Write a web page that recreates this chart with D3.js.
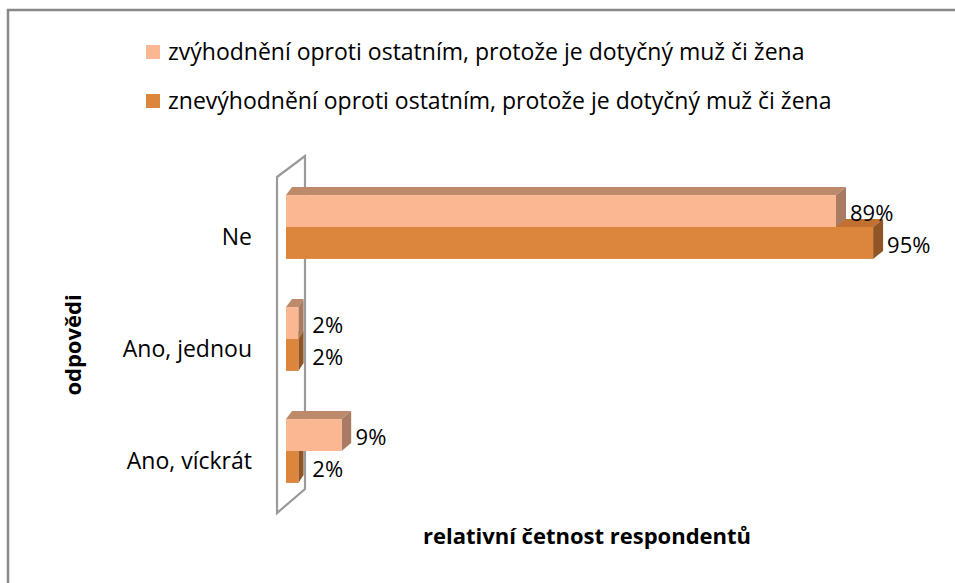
<!DOCTYPE html>
<html><head><meta charset="utf-8">
<script src="https://cdn.jsdelivr.net/npm/d3@7"></script>
<style>body{margin:0;background:#fff}svg{display:block}text{font-family:"Open Sans",sans-serif;fill:#000}</style>
</head><body>
<script>
const categories = ["Ne", "Ano, jednou", "Ano, víckrát"];
const seriesNames = ["zvýhodnění oproti ostatním, protože je dotyčný muž či žena",
                     "znevýhodnění oproti ostatním, protože je dotyčný muž či žena"];
const advantaged = [89, 2, 9];
const disadvantaged = [95, 2, 2];
const yTitle = "odpovědi";
const xTitle = "relativní četnost respondentů";

const W = 955, H = 583;
const svg = d3.select("body").append("svg").attr("width", W).attr("height", H);

// outer border
svg.append("rect").attr("x", 8).attr("y", 10).attr("width", 980).attr("height", 620)
  .attr("fill", "none").attr("stroke", "#888").attr("stroke-width", 2.5);

const x = d3.scaleLinear().domain([0, 100]).range([286, 904]);
const y = d3.scaleBand().domain(categories).range([171, 507]).paddingInner(0.43).paddingOuter(0.215);
const sub = d3.scaleBand().domain([0, 1]).range([0, y.bandwidth()]);

// back wall
const wall = [[277,177],[305,156],[305,489],[277,513]];
svg.append("path").attr("d", d3.line()(wall) + "Z").attr("fill", "none")
  .attr("stroke", "#9a9a9a").attr("stroke-width", 2.2);

const styles = [
  {front: "#FAB791", top: "#BD8A6C", side: "#A87B62"},
  {front: "#DC853D", top: "#C0702F", side: "#8F5527"}
];
const series = [advantaged, disadvantaged];
const dy = 8, dxL = 6;

const g = svg.append("g");
categories.forEach((c, i) => {
  [1, 0].forEach(s => {
    const v = series[s][i];
    const x0 = x(0), x1 = x(v);
    const w = x1 - x0;
    const dxR = Math.min(10, 4 + w * 0.1);
    const y0 = y(c) + sub(s), y1 = y0 + sub.bandwidth();
    const st = styles[s];
    g.append("path").attr("d", d3.line()([[x0, y0], [x0 + dxL, y0 - dy], [x1 + dxR, y0 - dy], [x1, y0]]) + "Z")
      .attr("fill", st.top);
    g.append("path").attr("d", d3.line()([[x1, y0], [x1 + dxR, y0 - dy], [x1 + dxR, y1 - dy], [x1, y1]]) + "Z")
      .attr("fill", st.side);
    g.append("rect").attr("x", x0).attr("y", y0).attr("width", w).attr("height", y1 - y0).attr("fill", st.front);
    g.append("text").attr("x", x1 + 14).attr("y", (y0 + y1) / 2 + 2).attr("dy", "0.35em")
      .style("font-size", "22px").text(v + "%");
  });
});

categories.forEach(c => {
  svg.append("text").attr("x", 252).attr("y", y(c) + y.bandwidth() / 2 + 10).attr("dy", "0.35em")
    .attr("text-anchor", "end").style("font-size", "23px").text(c);
});

seriesNames.forEach((n, i) => {
  const ly = 52 + i * 49;
  svg.append("rect").attr("x", 146).attr("y", ly - 7).attr("width", 14).attr("height", 14).attr("fill", styles[i].front);
  svg.append("text").attr("x", 168).attr("y", ly).attr("dy", "0.35em").style("font-size", "23px").text(n);
});

svg.append("text").attr("transform", "translate(73,345) rotate(-90)").attr("text-anchor", "middle")
  .attr("dy", "0.35em").style("font-size", "22px").style("font-weight", "bold").text(yTitle);
svg.append("text").attr("x", 587).attr("y", 536).attr("text-anchor", "middle").attr("dy", "0.35em")
  .style("font-size", "22px").style("font-weight", "bold").text(xTitle);
</script>
</body></html>
